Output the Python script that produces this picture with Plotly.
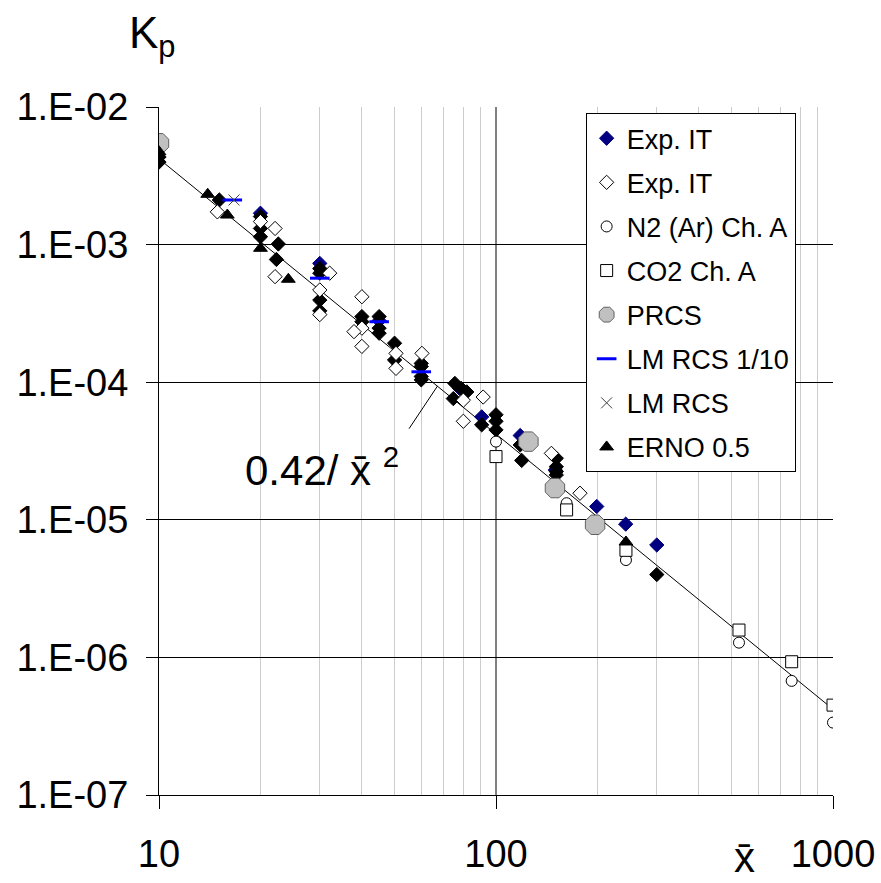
import math
import plotly.graph_objects as go

FONT = "Liberation Sans, Arial, sans-serif"

# ---------------- data ----------------
exp_it_navy_x = [20, 45, 78, 90.7, 118, 150, 199, 242.6, 300, 30]
exp_it_navy_y = [1.69e-3, 2.8e-4, 9.0e-5, 5.6e-5, 4.1e-5, 2.3e-5, 1.25e-5, 9.3e-6, 6.56e-6, 7.3e-4]

black_x = [10, 10, 15.1, 20, 20, 20, 22.6, 22.3, 30, 30, 30, 30, 40, 40,
           45, 45, 45, 50, 50, 60, 60, 60, 60, 75.5, 78.9, 81.9, 74.7,
           90.7, 100, 100, 100, 118, 119.2, 151, 151, 151, 151, 300]
black_y = [4.33e-3, 3.98e-3, 2.11e-3, 1.6e-3, 1.31e-3, 1.14e-3, 1.01e-3, 7.8e-4,
           6.7e-4, 6.2e-4, 3.95e-4, 3.3e-4, 3.0e-4, 2.75e-4,
           3.0e-4, 2.47e-4, 2.27e-4, 1.92e-4, 1.45e-4, 1.37e-4, 1.3e-4, 1.1e-4, 1.04e-4,
           9.8e-5, 9.0e-5, 8.5e-5, 7.6e-5, 4.9e-5, 5.8e-5, 5.2e-5, 4.5e-5,
           3.5e-5, 2.7e-5, 2.8e-5, 2.43e-5, 2.24e-5, 2.12e-5, 4.0e-6]

exp_it_open_x = [14.9, 20, 22.1, 22.1, 30, 30, 32.1, 40, 40, 40, 37.9, 50.5, 50.5,
                 60.3, 80, 80, 91.6, 146, 177.5]
exp_it_open_y = [1.73e-3, 1.47e-3, 1.31e-3, 5.85e-4, 4.68e-4, 3.1e-4, 6.2e-4, 4.18e-4,
                 2.47e-4, 1.82e-4, 2.33e-4, 1.62e-4, 1.26e-4, 1.62e-4, 7.4e-5, 5.2e-5,
                 7.8e-5, 3.04e-5, 1.56e-5]

n2_x = [100, 162, 243, 526, 754, 1000]
n2_y = [3.7e-5, 1.32e-5, 5.1e-6, 1.28e-6, 6.75e-7, 3.36e-7]

co2_x = [100, 162, 243, 526, 754, 1000]
co2_y = [2.88e-5, 1.18e-5, 6.0e-6, 1.58e-6, 9.3e-7, 4.5e-7]

prcs_x = [10, 124.8, 149.6, 196.8]
prcs_y = [5.45e-3, 3.7e-5, 1.7e-5, 9.2e-6]

lm110_x = [16.5, 30, 45, 60]
lm110_y = [2.11e-3, 5.7e-4, 2.75e-4, 1.19e-4]

lm_x = [16.7]
lm_y = [2.11e-3]

erno_x = [10, 13.95, 15.95, 20, 24.2, 243]
erno_y = [4.73e-3, 2.32e-3, 1.64e-3, 9.4e-4, 5.6e-4, 6.9e-6]

FIT_COEF = 0.42
FIT_X = [10, 1000]
FIT_LABEL_X = 67

x_tick_vals = [10, 100, 1000]
x_tick_text = ["10", "100", "1000"]
x_minor_vals = [20, 30, 40, 50, 60, 70, 80, 90, 200, 300, 400, 500, 600, 700, 800, 900, 1000]
y_tick_vals = [1e-7, 1e-6, 1e-5, 1e-4, 1e-3, 1e-2]
y_tick_text = ["1.E-07", "1.E-06", "1.E-05", "1.E-04", "1.E-03", "1.E-02"]

# ---------------- figure ----------------
fig = go.Figure()

# black major x gridline at 100
fig.add_trace(go.Scatter(x=[100, 100], y=[y_tick_vals[0], y_tick_vals[-1]], mode="lines",
                         line=dict(color="black", width=1), showlegend=False, hoverinfo="skip"))

# fit line
fig.add_trace(go.Scatter(x=FIT_X, y=[FIT_COEF / v ** 2 for v in FIT_X], mode="lines",
                         line=dict(color="black", width=1), showlegend=False, hoverinfo="skip"))

def add(name, xs, ys, symbol, size, fill, line_color, line_width, rank, show=True):
    fig.add_trace(go.Scatter(
        x=xs, y=ys, mode="markers", name=name, showlegend=show,
        legendgroup=name if show else None, legendrank=rank,
        marker=dict(symbol=symbol, size=size, color=fill,
                    line=dict(color=line_color, width=line_width))))

add("Exp. IT", exp_it_navy_x, exp_it_navy_y, "diamond", 11, "#000080", "#000080", 1, 1)
add("Exp. IT black", black_x, black_y, "diamond", 11, "black", "black", 1, 100, show=False)
add("Exp. IT ", exp_it_open_x, exp_it_open_y, "diamond", 11, "white", "black", 1, 2)
add("N2 (Ar) Ch. A", n2_x, n2_y, "circle", 11, "white", "black", 1, 3)
add("CO2 Ch. A", co2_x, co2_y, "square", 12, "white", "black", 1, 4)
add("PRCS", prcs_x, prcs_y, "octagon", 21, "#c0c0c0", "#606060", 1, 5)
add("ERNO 0.5", erno_x, erno_y, "triangle-up", 12, "black", "black", 1, 8)
add("LM RCS 1/10", lm110_x, lm110_y, "line-ew", 14, "#0000ff", "#0000ff", 3, 6)
add("LM RCS", lm_x, lm_y, "x-thin", 11, "#404040", "#404040", 1, 7)

fig.update_xaxes(
    type="log", range=[math.log10(x_tick_vals[0]), math.log10(x_tick_vals[-1])],
    tickmode="array", tickvals=x_tick_vals, ticktext=x_tick_text,
    showgrid=False, showline=True, linecolor="black", linewidth=1,
    ticks="outside", ticklen=13, tickcolor="black", tickwidth=1,
    tickfont=dict(family=FONT, size=38, color="black"), ticklabelstandoff=12,
    layer="below traces", automargin=False,
    minor=dict(tickmode="array", tickvals=x_minor_vals, showgrid=True,
               gridcolor="#cccccc", gridwidth=1, ticks=""),
)
fig.update_yaxes(
    type="log", range=[math.log10(y_tick_vals[0]), math.log10(y_tick_vals[-1])],
    tickmode="array", tickvals=y_tick_vals, ticktext=y_tick_text,
    showgrid=True, gridcolor="black", gridwidth=1,
    showline=True, linecolor="black", linewidth=1,
    ticks="outside", ticklen=12, tickcolor="black", tickwidth=1,
    tickfont=dict(family=FONT, size=38, color="black"), ticklabelstandoff=10,
    layer="below traces", automargin=False,
)

annotations = [
    dict(text="K<sub>p</sub>", xref="paper", yref="paper", x=-0.047, y=1.06,
         xanchor="left", yanchor="bottom", showarrow=False,
         font=dict(family=FONT, size=44, color="black")),
    dict(text="x\u0304", xref="paper", yref="paper", x=0.869, y=-0.1275,
         xanchor="center", yanchor="bottom", showarrow=False,
         font=dict(family=FONT, size=42, color="black")),
    dict(text="0.42/ x\u0304 <sup>2</sup>", xref="paper", yref="paper", x=0.125, y=0.477,
         xanchor="left", yanchor="middle", showarrow=False,
         font=dict(family=FONT, size=42, color="black")),
    dict(text=" ", xref="x", yref="y", x=math.log10(FIT_LABEL_X),
         y=math.log10(FIT_COEF / FIT_LABEL_X ** 2), ax=-30, ay=45,
         showarrow=True, arrowhead=0, arrowwidth=1, arrowcolor="black",
         standoff=0, startstandoff=0, font=dict(size=2)),
]

fig.update_layout(
    width=881, height=883,
    margin=dict(l=159, r=48, t=107, b=88, autoexpand=False),
    paper_bgcolor="white", plot_bgcolor="white",
    font=dict(family=FONT, color="black"),
    annotations=annotations,
    showlegend=True,
    legend=dict(x=0.633, y=0.991, xanchor="left", yanchor="top",
                bgcolor="white", bordercolor="black", borderwidth=1,
                font=dict(family=FONT, size=27, color="black"),
                tracegroupgap=6, traceorder="grouped", itemsizing="trace"),
)

fig.write_html("out.html", config={"displayModeBar": False},
               post_script="document.body.style.margin='0';")
